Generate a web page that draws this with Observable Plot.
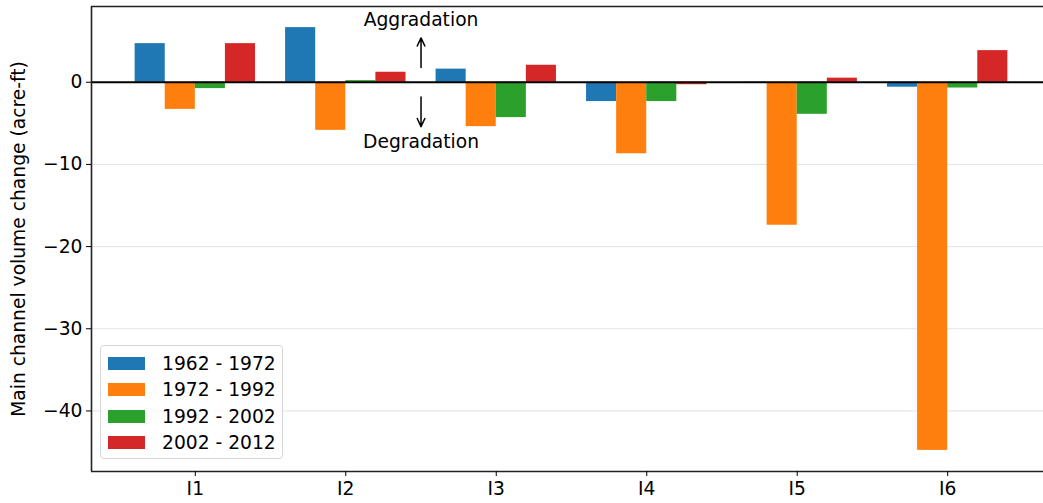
<!DOCTYPE html>
<html>
<head>
<meta charset="utf-8">
<script src="https://cdn.jsdelivr.net/npm/d3@7"></script>
<script src="https://cdn.jsdelivr.net/npm/@observablehq/plot@0.6"></script>
<style>
  html, body { margin: 0; padding: 0; background: white; overflow: hidden; }
  #wrap { position: relative; width: 1043px; height: 503px; }
  #legend {
    position: absolute; left: 100px; top: 345px;
    width: 183px; height: 114px; box-sizing: border-box;
    background: rgba(255,255,255,0.8);
    border: 1px solid #d6d6d6; border-radius: 4px;
    font-family: "DejaVu Sans", sans-serif; font-size: 18.7px; color: #000;
    padding: 4px 0 0 7px;
  }
  .row { display: flex; align-items: center; height: 26.5px; }
  .sw { width: 37px; height: 13px; margin-right: 17px; }
</style>
</head>
<body>
<div id="wrap"><div id="legend"></div></div>
<script>
const categories = ["I1", "I2", "I3", "I4", "I5", "I6"];
const periods = ["1962 - 1972", "1972 - 1992", "1992 - 2002", "2002 - 2012"];
const v1962_1972 = [4.7, 6.65, 1.6, -2.35, -0.15, -0.6];
const v1972_1992 = [-3.3, -5.85, -5.4, -8.7, -17.4, -44.8];
const v1992_2002 = [-0.77, 0.2, -4.3, -2.35, -3.9, -0.7];
const v2002_2012 = [4.7, 1.22, 2.07, -0.3, 0.5, 3.85];
const colors = ["#1f77b4", "#ff7f0e", "#2ca02c", "#d62728"];
const yTicks = [0, -10, -20, -30, -40];
const annotations = ["Aggradation", "Degradation"];

const series = [v1962_1972, v1972_1992, v1992_2002, v2002_2012];
const barW = 0.2;
const rows = [];
series.forEach((vals, k) => {
  vals.forEach((v, i) => {
    rows.push({cat: i, period: periods[k], k, value: v});
  });
});
const xDom = [-0.69, 5.69];
const yDom = [-47.37, 9.22];
const FS = 18.7;

const chart = Plot.plot({
  width: 1043,
  height: 503,
  marginLeft: 91,
  marginRight: 0,
  marginTop: 6,
  marginBottom: 32,
  style: {fontFamily: "DejaVu Sans, sans-serif", fontSize: FS + "px", color: "#000", background: "white"},
  x: {type: "linear", domain: xDom, range: [91, 1051]},
  y: {domain: yDom, range: [471, 6]},
  color: {domain: periods, range: colors},
  marks: [
    Plot.ruleY(yTicks.filter(t => t !== 0), {stroke: "#b0b0b0", strokeOpacity: 0.35, strokeWidth: 1}),
    Plot.rect(rows, {
      x1: d => d.cat + (d.k - 2) * barW,
      x2: d => d.cat + (d.k - 1) * barW,
      y1: 0, y2: "value",
      fill: "period"
    }),
    Plot.ruleY([0], {stroke: "#000", strokeWidth: 2}),
    Plot.arrow([{x: 1.5, y1: 1.8, y2: 5.4}, {x: 1.5, y1: -1.8, y2: -5.4}], {
      x1: "x", x2: "x", y1: "y1", y2: "y2", stroke: "#000", strokeWidth: 1.5, headLength: 9, headAngle: 50
    }),
    Plot.text([{t: annotations[0], y: 7.6}, {t: annotations[1], y: -7.3}], {
      x: 1.5, y: "y", text: "t", fontSize: FS, fill: "#000"
    }),
    Plot.ruleY([yDom[0], yDom[1]], {stroke: "#222", strokeWidth: 1.6}),
    Plot.ruleX([xDom[0], xDom[1]], {stroke: "#222", strokeWidth: 1.6}),
    Plot.axisY({ticks: yTicks, tickSize: 5, tickPadding: 4, tickFormat: d => d === 0 ? "0" : "\u2212" + Math.abs(d),
      label: "Main channel volume change (acre-ft)", labelAnchor: "center", labelArrow: "none", labelOffset: 80, fontSize: FS}),
    Plot.axisX({ticks: d3.range(categories.length), tickSize: 5, tickPadding: 5, tickFormat: i => categories[i], label: null, fontSize: FS})
  ]
});
document.getElementById("wrap").prepend(chart);

const legend = document.getElementById("legend");
periods.forEach((p, k) => {
  const row = document.createElement("div");
  row.className = "row";
  const sw = document.createElement("div");
  sw.className = "sw";
  sw.style.background = colors[k];
  const lab = document.createElement("span");
  lab.textContent = p;
  row.append(sw, lab);
  legend.append(row);
});
</script>
</body>
</html>
